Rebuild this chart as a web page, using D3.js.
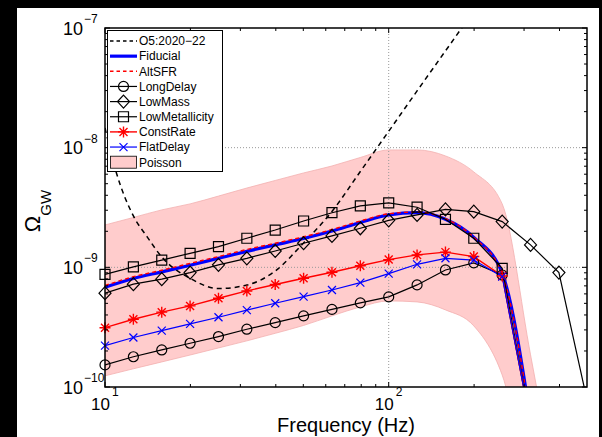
<!DOCTYPE html>
<html>
<head>
<meta charset="utf-8">
<script src="https://cdn.jsdelivr.net/npm/d3@7"></script>
<style>
  html, body { margin: 0; padding: 0; background: #000; }
  svg { display: block; }
  text { font-family: "Liberation Sans", Arial, Helvetica, sans-serif; fill: #000; }
</style>
</head>
<body>
<svg id="chart" width="602" height="437"></svg>
<script>
// frequencies (Hz) of the sample points, 0.1 decade apart
const freq = [10, 12.59, 15.85, 19.95, 25.12, 31.62, 39.81, 50.12, 63.10, 79.43, 100, 125.9, 158.5, 199.5, 251.2, 316.2, 398.1, 501.2];

const fiducial = [6.82e-10, 8.07e-10, 9.16e-10, 1.04e-9, 1.19e-9, 1.36e-9, 1.54e-9, 1.74e-9, 2.01e-9, 2.37e-9, 2.74e-9, 2.86e-9, 2.52e-9, 1.78e-9, 8.93e-10, 5.4e-11];
const altSFR = [7.05e-10, 8.35e-10, 9.45e-10, 1.08e-9, 1.23e-9, 1.41e-9, 1.59e-9, 1.80e-9, 2.07e-9, 2.44e-9, 2.80e-9, 2.90e-9, 2.55e-9, 1.78e-9, 8.8e-10, 5.2e-11];
const longDelay = [1.53e-10, 1.79e-10, 2.04e-10, 2.32e-10, 2.64e-10, 3.04e-10, 3.45e-10, 3.93e-10, 4.45e-10, 5.05e-10, 5.66e-10, 7.13e-10, 9.51e-10, 1.09e-9, 8.63e-10, 5.0e-11];
const lowMass = [6.08e-10, 7.23e-10, 7.96e-10, 9.04e-10, 1.05e-9, 1.19e-9, 1.37e-9, 1.59e-9, 1.83e-9, 2.12e-9, 2.47e-9, 2.74e-9, 3.05e-9, 2.92e-9, 2.41e-9, 1.54e-9, 9.04e-10, 7.6e-11];
const lowMetallicity = [8.73e-10, 1.01e-9, 1.15e-9, 1.31e-9, 1.49e-9, 1.75e-9, 2.05e-9, 2.44e-9, 2.86e-9, 3.26e-9, 3.45e-9, 3.18e-9, 2.52e-9, 1.75e-9, 9.82e-10, 5.0e-11];
const constRate = [3.13e-10, 3.68e-10, 4.22e-10, 4.76e-10, 5.52e-10, 6.35e-10, 7.18e-10, 8.11e-10, 9.10e-10, 1.03e-9, 1.16e-9, 1.27e-9, 1.34e-9, 1.23e-9, 8.47e-10, 5.0e-11];
const flatDelay = [2.22e-10, 2.59e-10, 2.96e-10, 3.37e-10, 3.83e-10, 4.39e-10, 5.01e-10, 5.69e-10, 6.47e-10, 7.45e-10, 8.85e-10, 1.06e-9, 1.19e-9, 1.15e-9, 8.36e-10, 5.0e-11];
const poissonHigh = [2.26e-9, 2.61e-9, 3.02e-9, 3.39e-9, 3.94e-9, 4.60e-9, 5.32e-9, 6.15e-9, 7.03e-9, 8.28e-9, 9.57e-9, 9.57e-9, 8.53e-9, 6.27e-9, 3.39e-9, 1.86e-10, 1e-11];
const poissonLow = [1.24e-10, 1.42e-10, 1.62e-10, 1.85e-10, 2.12e-10, 2.43e-10, 2.81e-10, 3.27e-10, 3.93e-10, 4.67e-10, 5.24e-10, 5.14e-10, 4.41e-10, 3.24e-10, 1.26e-10, 1.6e-11, 1e-11];

// O5 sensitivity curve has its own frequencies
const o5Freq = [10, 11.0, 12.59, 14.1, 15.85, 19.95, 25.12, 31.62, 39.81, 50.12, 63.10, 79.43, 100, 125.9, 158.5, 199.5];
const o5 = [1.46e-8, 6.03e-9, 2.69e-9, 1.79e-9, 1.22e-9, 8.09e-10, 6.65e-10, 7.11e-10, 9.31e-10, 1.60e-9, 2.93e-9, 6.32e-9, 1.37e-8, 2.98e-8, 6.43e-8, 1.39e-7];

const legendLabels = ['O5:2020\u221222', 'Fiducial', 'AltSFR', 'LongDelay', 'LowMass', 'LowMetallicity', 'ConstRate', 'FlatDelay', 'Poisson'];

const xMajor = [10, 100];
const yMajor = [1e-10, 1e-9, 1e-8, 1e-7];

const svg = d3.select('#chart');
const pL = 105, pR = 587, pT = 28, pB = 387;

const x = d3.scaleLog().domain([10, 500]).range([pL, pR]);
const y = d3.scaleLog().domain([1e-10, 1e-7]).range([pB, pT]);

// figure background
svg.append('rect').attr('x', 17).attr('y', 8).attr('width', 582).attr('height', 429).attr('fill', '#fff');

svg.append('defs').append('clipPath').attr('id', 'plotclip')
    .append('rect').attr('x', pL).attr('y', pT).attr('width', pR - pL).attr('height', pB - pT);

const zip = (fs, vs) => vs.map((v, i) => ({ f: fs[i], v: v }));

// Poisson band
const band = poissonHigh.map((v, i) => ({ f: freq[i], hi: v, lo: poissonLow[i] }));
svg.append('path')
    .attr('clip-path', 'url(#plotclip)')
    .attr('fill', '#ffcccc')
    .attr('stroke', '#f2b0b0')
    .attr('stroke-width', 0.8)
    .attr('d', d3.area().curve(d3.curveMonotoneX)
        .x(d => x(d.f)).y0(d => y(d.lo)).y1(d => y(d.hi))(band));

// grid
const grid = svg.append('g').attr('stroke', '#999').attr('stroke-width', 1).attr('stroke-dasharray', '1,2');
grid.append('line').attr('x1', x(100)).attr('x2', x(100)).attr('y1', pT).attr('y2', pB);
[1e-9, 1e-8].forEach(v => {
    grid.append('line').attr('x1', pL).attr('x2', pR).attr('y1', y(v)).attr('y2', y(v));
});

const series = [
    { name: 'O5', fs: o5Freq, vs: o5, color: '#000', width: 1.5, dash: '5,4', curve: d3.curveMonotoneX },
    { name: 'Fiducial', fs: freq, vs: fiducial, color: '#0000ff', width: 3.2, curve: d3.curveMonotoneX },
    { name: 'AltSFR', fs: freq, vs: altSFR, color: '#ff0000', width: 1.4, dash: '4,3', curve: d3.curveMonotoneX },
    { name: 'LongDelay', fs: freq, vs: longDelay, color: '#000', width: 1.2, marker: 'circle' },
    { name: 'LowMass', fs: freq, vs: lowMass, color: '#000', width: 1.2, marker: 'diamond' },
    { name: 'LowMetallicity', fs: freq, vs: lowMetallicity, color: '#000', width: 1.2, marker: 'square' },
    { name: 'ConstRate', fs: freq, vs: constRate, color: '#ff0000', width: 1.4, marker: 'star' },
    { name: 'FlatDelay', fs: freq, vs: flatDelay, color: '#0000ff', width: 1.2, marker: 'x' }
];

function markerPath(type) {
    switch (type) {
        case 'circle': return 'M5,0A5,5 0 1,1 -5,0A5,5 0 1,1 5,0Z';
        case 'diamond': return 'M0,-6.5L6,0L0,6.5L-6,0Z';
        case 'square': return 'M-5,-5H5V5H-5Z';
        case 'star': return 'M-5.5,0H5.5M0,-5.5V5.5M-4,-4L4,4M-4,4L4,-4';
        case 'x': return 'M-4,-4L4,4M-4,4L4,-4';
    }
}

const linesG = svg.append('g').attr('clip-path', 'url(#plotclip)');
const markG = svg.append('g');

series.forEach(s => {
    const pts = zip(s.fs, s.vs);
    const line = d3.line().x(d => x(d.f)).y(d => y(d.v));
    if (s.curve) line.curve(s.curve);
    linesG.append('path')
        .attr('fill', 'none')
        .attr('stroke', s.color)
        .attr('stroke-width', s.width)
        .attr('stroke-dasharray', s.dash || null)
        .attr('d', line(pts));
    if (s.marker) {
        markG.append('g').selectAll('path')
            .data(pts.filter(d => d.v >= 1e-10 && d.f <= 500))
            .join('path')
            .attr('transform', d => `translate(${x(d.f)},${y(d.v)})`)
            .attr('d', markerPath(s.marker))
            .attr('fill', 'none')
            .attr('stroke', s.color)
            .attr('stroke-width', s.width);
    }
});

// axes box and ticks
const axis = svg.append('g').attr('stroke', '#000');
const xMinor = [];
[10, 100].forEach(b => { for (let k = 2; k <= 9; k++) if (b * k < 500) xMinor.push(b * k); });
const yMinor = [];
[1e-10, 1e-9, 1e-8].forEach(b => { for (let k = 2; k <= 9; k++) yMinor.push(b * k); });

xMajor.concat(xMinor).forEach(f => {
    const len = xMajor.includes(f) ? 5 : 3;
    axis.append('line').attr('x1', x(f)).attr('x2', x(f)).attr('y1', pB).attr('y2', pB - len);
    axis.append('line').attr('x1', x(f)).attr('x2', x(f)).attr('y1', pT).attr('y2', pT + len);
});
yMajor.concat(yMinor).forEach(v => {
    const len = yMajor.includes(v) ? 5 : 3;
    axis.append('line').attr('y1', y(v)).attr('y2', y(v)).attr('x1', pL).attr('x2', pL + len);
    axis.append('line').attr('y1', y(v)).attr('y2', y(v)).attr('x1', pR).attr('x2', pR - len);
});
axis.append('rect').attr('x', pL).attr('y', pT).attr('width', pR - pL).attr('height', pB - pT)
    .attr('fill', 'none').attr('stroke-width', 1.5);

// tick labels: 10 with a raised exponent
const exp10 = v => Math.round(Math.log10(v));
yMajor.forEach(v => {
    const yy = y(v);
    svg.append('text').attr('x', 83).attr('y', yy + 6.5).attr('text-anchor', 'end')
        .attr('font-size', 18).text('10');
    const e = exp10(v);
    svg.append('text').attr('x', 84).attr('y', yy - 5)
        .attr('font-size', 12).text((e < 0 ? '\u2212' : '') + Math.abs(e));
});
xMajor.forEach(f => {
    const xx = x(f);
    svg.append('text').attr('x', xx + 5).attr('y', 410).attr('text-anchor', 'end')
        .attr('font-size', 17).text('10');
    svg.append('text').attr('x', xx + 7).attr('y', 396)
        .attr('font-size', 12).text(exp10(f));
});

// axis titles
svg.append('text').attr('x', 346).attr('y', 432).attr('text-anchor', 'middle')
    .attr('font-size', 20).text('Frequency (Hz)');
const yt = svg.append('text').attr('transform', 'translate(40,211) rotate(-90)')
    .attr('text-anchor', 'middle').attr('font-size', 22);
yt.append('tspan').text('\u03A9');
yt.append('tspan').attr('font-size', 15).attr('dy', 11).text('GW');

// legend
const lg = svg.append('g');
lg.append('rect').attr('x', 107.5).attr('y', 30.5).attr('width', 115).attr('height', 141)
    .attr('fill', '#fff').attr('stroke', '#000').attr('stroke-width', 1);
const legendStyles = series.concat([{ name: 'Poisson', patch: true }]);
legendLabels.forEach((label, i) => {
    const s = legendStyles[i];
    const cy = 41 + i * 15.15;
    if (s.patch) {
        lg.append('rect').attr('x', 110.5).attr('y', cy - 6).attr('width', 26).attr('height', 12)
            .attr('fill', '#ffcccc').attr('stroke', '#000').attr('stroke-width', 0.8);
    } else {
        lg.append('line').attr('x1', 110).attr('x2', 137).attr('y1', cy).attr('y2', cy)
            .attr('stroke', s.color).attr('stroke-width', s.width)
            .attr('stroke-dasharray', s.dash ? '3.5,3' : null);
        if (s.marker) {
            lg.append('path').attr('transform', `translate(123.5,${cy})`)
                .attr('d', markerPath(s.marker)).attr('fill', 'none')
                .attr('stroke', s.color).attr('stroke-width', s.width);
        }
    }
    lg.append('text').attr('x', 139).attr('y', cy + 4.3).attr('font-size', 12).text(label);
});
</script>
</body>
</html>
